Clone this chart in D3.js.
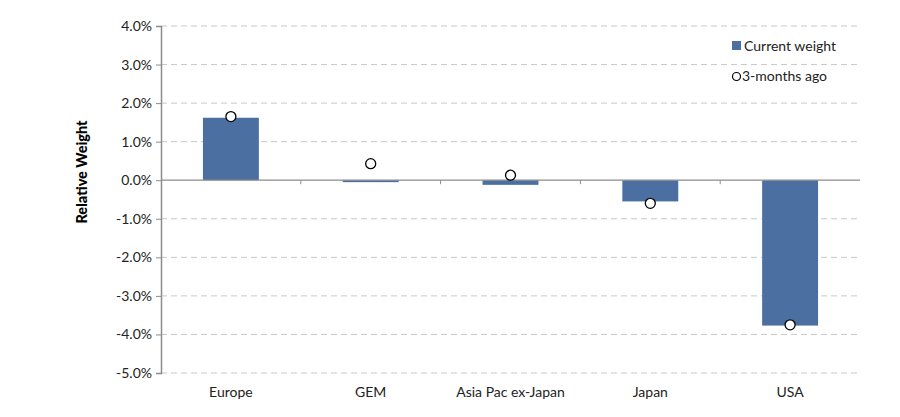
<!DOCTYPE html>
<html><head><meta charset="utf-8">
<script src="https://cdnjs.cloudflare.com/ajax/libs/d3/7.8.5/d3.min.js"></script>
<style>body{margin:0;background:#fff}svg{display:block;font-family:Lato,sans-serif}</style>
</head><body><svg id="c" width="900" height="417"></svg>
<script>
const categories = ["Europe","GEM","Asia Pac ex-Japan","Japan","USA"];
const currentWeight = [1.62,-0.05,-0.12,-0.55,-3.77];
const threeMonthsAgo = [1.65,0.43,0.13,-0.60,-3.75];
const yTicks = [4,3,2,1,0,-1,-2,-3,-4,-5];

const svg = d3.select("#c");
const m = {l:161, r:860, t:26, b:373};
const x = d3.scaleBand().domain(categories).range([m.l,m.r]).paddingInner(0.6).paddingOuter(0.3);
const xb = d3.scaleBand().domain(categories).range([m.l,m.r]);
const y = d3.scaleLinear().domain([-5,4]).range([m.b,m.t]);
const color = "#4a6fa0";
const fmt = d => d3.format(".1f")(d).replace("\u2212","-") + "%";

// grid
svg.append("g").selectAll("line").data(yTicks.filter(d=>d!==0)).join("line")
  .attr("x1",m.l).attr("x2",m.r).attr("y1",d=>y(d)).attr("y2",d=>y(d))
  .attr("stroke","#c8c8c8").attr("stroke-width",1).attr("stroke-dasharray","6,4");

// bars
svg.append("g").selectAll("rect").data(categories).join("rect")
  .attr("x",d=>x(d)).attr("width",x.bandwidth())
  .attr("y",(d,i)=>y(Math.max(0,currentWeight[i])))
  .attr("height",(d,i)=>Math.abs(y(currentWeight[i])-y(0)))
  .attr("fill",color);

// zero line
svg.append("line").attr("x1",m.l).attr("x2",m.r).attr("y1",y(0)).attr("y2",y(0))
  .attr("stroke","#8c8c8c").attr("stroke-width",1.2);
// category ticks
svg.append("g").selectAll("line").data(categories.slice(1)).join("line")
  .attr("x1",d=>xb(d)).attr("x2",d=>xb(d)).attr("y1",y(0)).attr("y2",y(0)+4)
  .attr("stroke","#8c8c8c");

// y axis
const ya = svg.append("g").attr("transform",`translate(${m.l},0)`)
  .call(d3.axisLeft(y).tickValues(yTicks).tickSize(5).tickPadding(4).tickFormat(fmt));
ya.select(".domain").attr("stroke","#8c8c8c").attr("stroke-width",1.5);
ya.selectAll(".tick line").attr("stroke","#8c8c8c");
ya.selectAll("text").attr("font-size",14).attr("fill","#222").attr("font-family","Lato");

// x labels
svg.append("g").selectAll("text").data(categories).join("text")
  .attr("x",d=>xb(d)+xb.bandwidth()/2).attr("y",y(-5)+24).attr("text-anchor","middle")
  .attr("font-size",14).attr("fill","#222").text(d=>d);

// circles
svg.append("g").selectAll("circle").data(categories).join("circle")
  .attr("cx",d=>x(d)+x.bandwidth()/2).attr("cy",(d,i)=>y(threeMonthsAgo[i])).attr("r",5)
  .attr("fill","#fff").attr("stroke","#000").attr("stroke-width",1.3);

// y title
svg.append("text").attr("transform",`translate(87,172) rotate(-90)`)
  .attr("text-anchor","middle").attr("font-weight","900").attr("font-size",14.5).attr("fill","#000")
  .text("Relative Weight");

// legend
const lg = svg.append("g");
lg.append("rect").attr("x",732).attr("y",41).attr("width",9).attr("height",9).attr("fill",color);
lg.append("text").attr("x",744).attr("y",51).attr("font-size",14).attr("fill","#222").text("Current weight");
lg.append("circle").attr("cx",736.5).attr("cy",76.5).attr("r",4).attr("fill","#fff").attr("stroke","#000").attr("stroke-width",1.2);
lg.append("text").attr("x",742).attr("y",81).attr("font-size",14).attr("fill","#222").text("3-months ago");
</script></body></html>
